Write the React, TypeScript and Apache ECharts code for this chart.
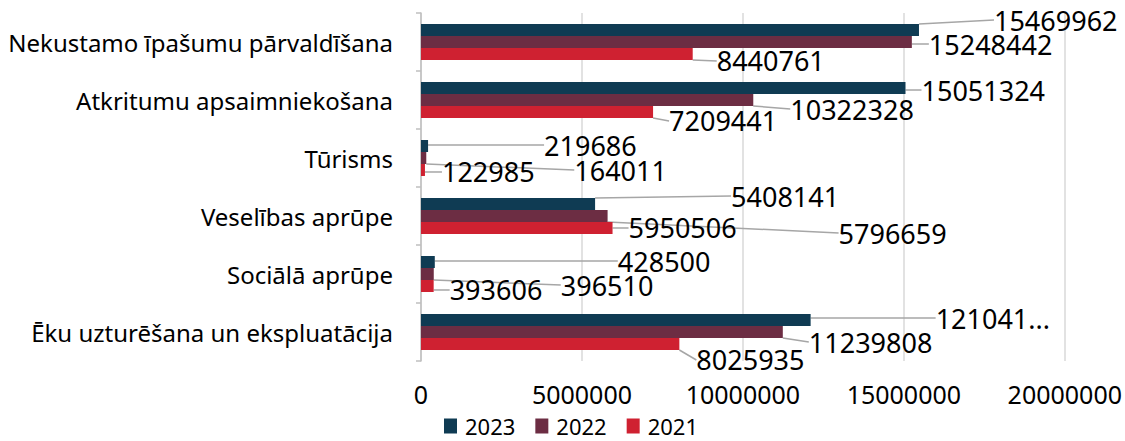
import React, { useEffect, useRef } from "react";
import * as echarts from "echarts";

const categories = [
  "Nekustamo īpašumu pārvaldīšana",
  "Atkritumu apsaimniekošana",
  "Tūrisms",
  "Veselības aprūpe",
  "Sociālā aprūpe",
  "Ēku uzturēšana un ekspluatācija",
];
const years = ["2023", "2022", "2021"];
const values2023 = [15469962, 15051324, 219686, 5408141, 428500, 12104150];
const values2022 = [15248442, 10322328, 164011, 5796659, 396510, 11239808];
const values2021 = [8440761, 7209441, 122985, 5950506, 393606, 8025935];
const xTicks = [0, 5000000, 10000000, 15000000, 20000000];

// label offsets (dx, dy) relative to default 'right' label position, per series
const offsets2023 = [[70, -10], [11, 2], [111, -1], [131, -8], [178, -1], [120, -2]];
const offsets2022 = [[12, 2], [32, 9], [143, 12], [226, 17], [122, 11], [21, 10]];
const offsets2021 = [[19, 7], [11, 9], [12, 2], [11, 0], [11, 4], [12, 16]];

const colors = ["#0f3b53", "#6c2d43", "#cf2131"];

export default function App() {
  const ref = useRef<HTMLDivElement>(null);
  useEffect(() => {
    document.body.style.margin = "0";
    const chart = echarts.init(ref.current!, undefined, { renderer: "svg" });
    const allValues = [values2023, values2022, values2021];
    const allOffsets = [offsets2023, offsets2022, offsets2021];
    const series = years.map((y, si) => ({
      name: y,
      type: "bar",
      barGap: "0%",
      barCategoryGap: "38%",
      itemStyle: { color: colors[si] },
      data: allValues[si].map((v, i) =>
        si === 0 && i === 5
          ? { value: v, label: { width: 118, overflow: "truncate", ellipsis: "..." } }
          : v
      ),
      label: {
        show: true,
        position: "right",
        distance: 5,
        fontFamily: "Noto Sans",
        fontSize: 27,
        color: "#000",
      },
      labelLine: {
        show: true,
        length2: 0,
        smooth: false,
        lineStyle: { color: "#a6a6a6", width: 1.5 },
      },
      labelLayout: (p: any) => {
        const o = allOffsets[si][p.dataIndex];
        return { dx: o[0], dy: o[1] };
      },
    }));
    chart.setOption({
      animation: false,
      textStyle: { fontFamily: "Noto Sans" },
      grid: { left: 421, right: 60, top: 13, bottom: 80 },
      legend: {
        data: years,
        left: 439,
        top: 410,
        itemWidth: 13,
        itemHeight: 15,
        itemGap: 20,
        icon: "rect",
        textStyle: { fontSize: 22, color: "#000", fontFamily: "Noto Sans", padding: [0, 0, 0, 3] },
      },
      xAxis: {
        type: "value",
        min: 0,
        max: xTicks[xTicks.length - 1],
        interval: xTicks[1] - xTicks[0],
        axisLine: { show: false },
        axisTick: { show: false },
        splitLine: { lineStyle: { color: "#d9d9d9", width: 1.5 } },
        axisLabel: {
          fontSize: 25,
          color: "#000",
          margin: 20,
          fontFamily: "Noto Sans",
          formatter: (v: number) => String(v),
        },
      },
      yAxis: {
        type: "category",
        inverse: true,
        data: categories,
        axisLine: { show: true, lineStyle: { color: "#bfbfbf", width: 1.5 } },
        axisTick: { show: true, length: 5, lineStyle: { color: "#bfbfbf", width: 1.5 } },
        axisLabel: { fontSize: 24, color: "#000", margin: 28, fontFamily: "Noto Sans" },
      },
      series,
    });
    return () => chart.dispose();
  }, []);
  return <div ref={ref} style={{ width: 1125, height: 441 }} />;
}
